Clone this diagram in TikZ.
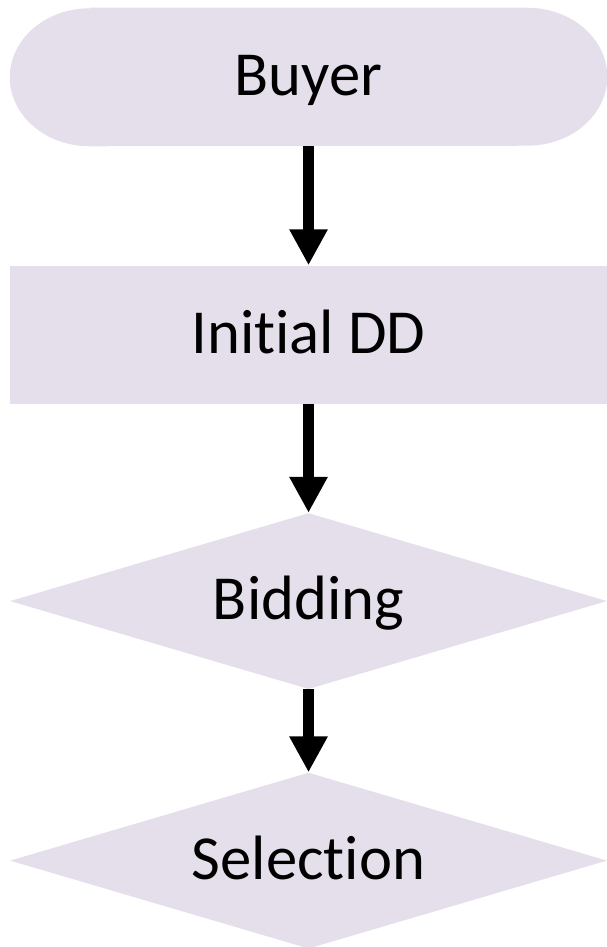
\documentclass[tikz,border=0pt]{standalone}
\usepackage{fontspec}
\setmainfont{Carlito}[Ligatures=NoCommon]
\usetikzlibrary{arrows.meta, shapes.geometric, positioning, backgrounds}
\definecolor{lavfill}{RGB}{229,223,236}

\begin{document}
\begin{tikzpicture}[
  node distance=80pt,
  stepfont/.style={font=\fontsize{47}{56}\selectfont, text height=28pt, text depth=0pt},
  terminal/.style={stepfont, minimum width=447.75pt, minimum height=103.5pt, inner sep=0pt},
  process/.style={stepfont, fill=lavfill, minimum width=447.75pt, minimum height=103.5pt, inner sep=0pt},
  decision/.style={stepfont, diamond, fill=lavfill, aspect=3.39, minimum width=447.75pt,
                   minimum height=132pt, inner sep=0pt},
  arrow/.style={-{Triangle[width=27pt, length=27pt]}, line width=8.5pt, black}
]
\useasboundingbox (0,0) rectangle (455.25pt,-710.25pt);

\node[terminal] (buyer) at (231.4pt,-57.75pt) {Buyer};
\node[process, below=89.25pt of buyer] (initdd) {Initial DD};
\node[decision, below=81.75pt of initdd] (bidding) {Bidding};
\node[decision, below=62.25pt of bidding] (selection) {Selection};

% rounded ends of the start box
\begin{scope}[on background layer]
\fill[lavfill] ([xshift=60pt]buyer.north west) -- ([xshift=-60pt]buyer.north east)
  arc[start angle=90, end angle=-90, x radius=60pt, y radius=51.75pt]
  -- ([xshift=60pt]buyer.south west)
  arc[start angle=270, end angle=90, x radius=60pt, y radius=51.75pt] -- cycle;
\end{scope}

\draw[arrow] (buyer) -- (initdd);
\draw[arrow] (initdd) -- (bidding);
\draw[arrow] (bidding) -- (selection);
\end{tikzpicture}
\end{document}
